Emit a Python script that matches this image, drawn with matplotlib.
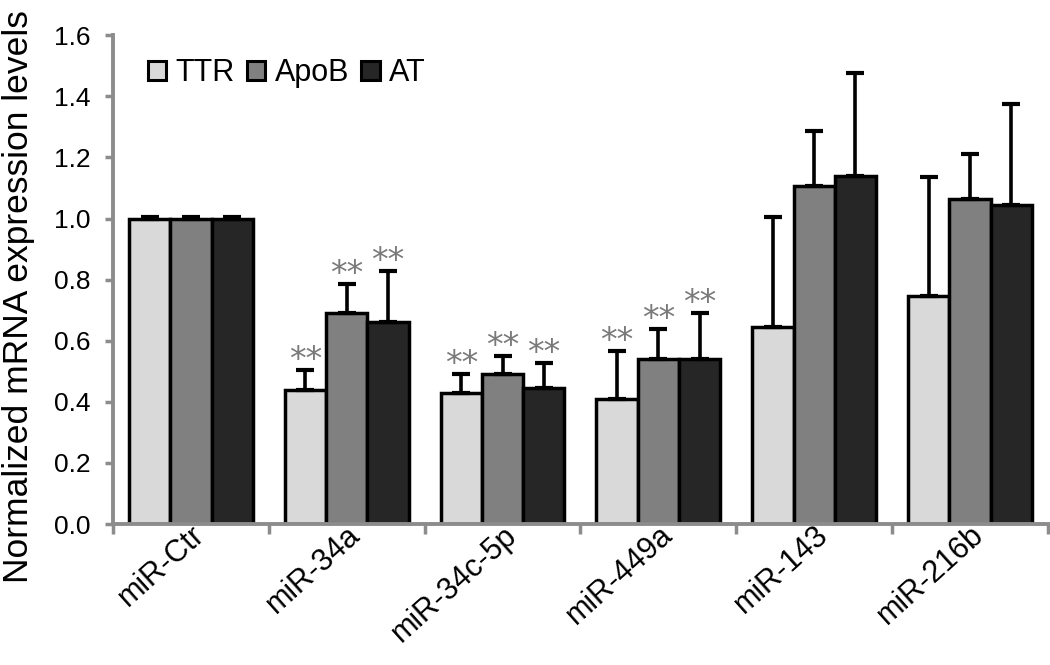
#! /usr/bin/env python3
# grouped bar chart: normalized mRNA levels after miRNA transfection

import numpy as np
import matplotlib
matplotlib.use("Agg")
import matplotlib.pyplot as plt
from matplotlib.patches import Patch
from matplotlib.transforms import ScaledTranslation

plt.rcParams['font.family'] = ['Liberation Sans', 'DejaVu Sans']

categories = ["miR-Ctr", "miR-34a", "miR-34c-5p", "miR-449a", "miR-143", "miR-216b"]
series = ["TTR", "ApoB", "AT"]

ttr = [1.00, 0.44, 0.43, 0.41, 0.645, 0.745]
apob = [1.00, 0.69, 0.49, 0.54, 1.105, 1.065]
at = [1.00, 0.66, 0.445, 0.54, 1.14, 1.045]

ttr_err = [0.005, 0.065, 0.06, 0.157, 0.36, 0.39]
apob_err = [0.005, 0.095, 0.06, 0.10, 0.18, 0.145]
at_err = [0.005, 0.167, 0.082, 0.15, 0.335, 0.33]

# which bars carry "**"
ttr_sig = [False, True, True, True, False, False]
apob_sig = [False, True, True, True, False, False]
at_sig = [False, True, True, True, False, False]

colors = ["#d9d9d9", "#808080", "#262626"]
axis_gray = "#8c8c8c"

fig = plt.figure(figsize=(10.5, 6.65), dpi=100)
ax = fig.add_axes([0.1076, 0.212, 0.8904, 0.735])

x = np.arange(len(categories))
width = 0.265
values = [ttr, apob, at]
errors = [ttr_err, apob_err, at_err]
sigs = [ttr_sig, apob_sig, at_sig]

for i, (vals, errs, sig) in enumerate(zip(values, errors, sigs)):
    pos = x + (i - 1) * width
    ax.bar(pos, vals, width, color=colors[i], edgecolor="black", linewidth=2.5, zorder=2)
    ax.errorbar(pos, vals, yerr=[np.zeros(len(errs)), errs], fmt="none",
                ecolor="black", elinewidth=2.6, capsize=6.5, capthick=3, zorder=3)
    for p, v, e, s in zip(pos, vals, errs, sig):
        if s:
            ax.text(p, v + e, "**", ha="center", va="baseline",
                    fontsize=24, color="#7a7a7a", family="DejaVu Sans")

ax.set_xlim(-0.5, len(categories) - 0.5)
ax.set_ylim(0, 1.6)
ax.set_yticks(np.arange(0, 1.61, 0.2))
ax.set_yticklabels(["%.1f" % v for v in np.arange(0, 1.61, 0.2)], fontsize=19)
ax.set_ylabel("Normalized mRNA expression levels", fontsize=25.5)
ax.yaxis.set_label_coords(-0.083, 0.466)

# ticks between groups, labels under the groups
ax.set_xticks(np.arange(-0.5, len(categories)), minor=True)
ax.set_xticks(x)
ax.set_xticklabels(categories, fontsize=22, rotation=42, ha="right",
                   rotation_mode="anchor")
shift = ScaledTranslation(13 / 72, 0, fig.dpi_scale_trans)
for lbl in ax.get_xticklabels():
    lbl.set_transform(lbl.get_transform() + shift)
ax.tick_params(axis="x", which="major", length=0, pad=-3)
ax.tick_params(axis="x", which="minor", length=7, width=2.5, color=axis_gray,
               direction="out")
ax.tick_params(axis="y", length=6, width=2.5, color=axis_gray, direction="out",
               pad=10)

for side in ["top", "right"]:
    ax.spines[side].set_visible(False)
for side in ["left", "bottom"]:
    ax.spines[side].set_color(axis_gray)
    ax.spines[side].set_linewidth(2.8)

handles = [Patch(facecolor=c, edgecolor="black", linewidth=2.2) for c in colors]
ax.legend(handles, series, loc="upper left", bbox_to_anchor=(0.018, 0.99),
          ncol=3, frameon=False, fontsize=22, handlelength=0.6,
          handleheight=0.6, handletextpad=0.3, columnspacing=0.4,
          borderaxespad=0.2)

fig.savefig("out.png", dpi=100)
